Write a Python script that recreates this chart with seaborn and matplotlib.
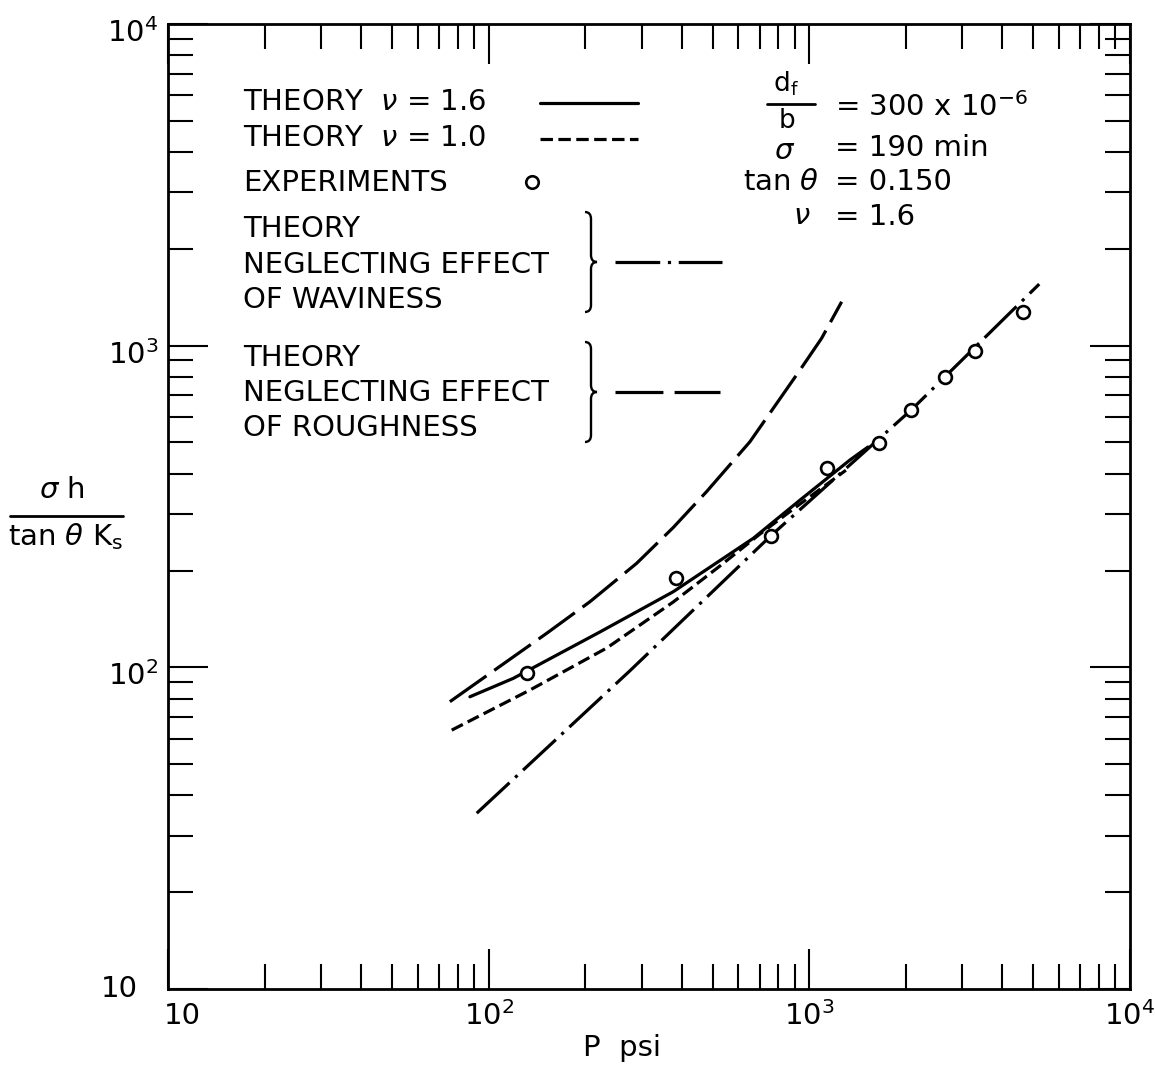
import numpy as np
import pandas as pd
import seaborn as sns
import matplotlib
matplotlib.use("Agg")
import matplotlib.pyplot as plt
from matplotlib.lines import Line2D
from matplotlib.path import Path
from matplotlib.patches import PathPatch
from matplotlib.transforms import ScaledTranslation

# ---------------- data ----------------
exp_p = [132, 384, 757, 1137, 1648, 2078, 2653, 3284, 4645]
exp_y = [96, 190, 256, 418, 499, 631, 800, 964, 1272]

nu16_p = [87.4, 119.3, 222.3, 376.3, 668.6, 935, 1338, 1523]
nu16_y = [81.0, 92.4, 128.8, 171.8, 251.8, 331, 441, 484]

nu10_p = [76.7, 134.5, 233.4, 376.3, 526, 701.5, 935, 1300]
nu10_y = [63.8, 85.0, 114.8, 159.6, 206.5, 259.7, 321.8, 410]

wav_p = [91.8, 275.8, 757, 2078, 5211]
wav_y = [35.2, 97.6, 256, 631, 1554]

rough_p = [75.7, 151.7, 207, 289.3, 376.3, 478, 652.8, 935, 1092, 1261]
rough_y = [78.2, 127.6, 160, 210.5, 272, 351.6, 502.8, 839.8, 1054, 1369]

tick_vals = [10, 100, 1000, 10000]
tick_labels = ["10", "$10^2$", "$10^3$", "$10^4$"]

# ---------------- figure ----------------
W, H = 1155, 1073
sns.set_theme(style="ticks")
plt.rcParams["font.family"] = ["DejaVu Sans"]
plt.rcParams["mathtext.fontset"] = "dejavusans"

fig = plt.figure(figsize=(W / 100, H / 100), dpi=100)
ax = fig.add_axes([168 / W, 1 - 989 / H, (1130 - 168) / W, (989 - 24) / H])
ax.set_xscale("log")
ax.set_yscale("log")

LW = 2.3
sns.lineplot(x=nu16_p, y=nu16_y, ax=ax, color="black", lw=LW, sort=False,
             estimator=None, linestyle="-")
sns.lineplot(x=nu10_p, y=nu10_y, ax=ax, color="black", lw=LW, sort=False,
             estimator=None, linestyle=(0, (3.9, 1.7)))
sns.lineplot(x=wav_p, y=wav_y, ax=ax, color="black", lw=LW, sort=False,
             estimator=None, linestyle=(0, (14, 2.4, 1, 2.4)))
sns.lineplot(x=rough_p, y=rough_y, ax=ax, color="black", lw=LW, sort=False,
             estimator=None, linestyle=(0, (14, 3)))
sns.scatterplot(x=exp_p, y=exp_y, ax=ax, marker="o", s=85, facecolor="white",
                edgecolor="black", linewidth=1.9, zorder=5)

ax.set_xlim(10, 10000)
ax.set_ylim(10, 10000)
ax.set_xticks(tick_vals)
ax.set_xticklabels(tick_labels)
ax.set_yticks(tick_vals)
ax.set_yticklabels(tick_labels)
ax.tick_params(which="both", direction="in", top=True, right=True, color="black",
               labelcolor="black")
ax.tick_params(which="major", length=29, width=1.5, labelsize=21, pad=9)
ax.tick_params(which="minor", length=18, width=1.5)
ax.tick_params(axis="y", which="major", pad=7)
for s in ax.spines.values():
    s.set_linewidth(2.0)
    s.set_color("black")
ax.set_xlabel("")
ax.set_ylabel("")

# corner labels: shift apart like the reference
xl0 = ax.get_xticklabels()[0]
xl0.set_transform(xl0.get_transform() + ScaledTranslation(0.14, 0, fig.dpi_scale_trans))
yl0 = ax.get_yticklabels()[0]
yl0.set_transform(yl0.get_transform() + ScaledTranslation(-0.2, 0.03, fig.dpi_scale_trans))
for lab in ax.get_yticklabels()[1:]:
    lab.set_transform(lab.get_transform() + ScaledTranslation(0, -0.06, fig.dpi_scale_trans))


def fx(x):
    return x / W


def fy(y):
    return 1 - y / H


FS = 21


def ftext(x, y, s, ha="left", size=FS, **kw):
    fig.text(fx(x), fy(y), s, ha=ha, va="center", fontsize=size, color="black", **kw)


def fline(x0, x1, y, ls="-"):
    fig.add_artist(Line2D([fx(x0), fx(x1)], [fy(y), fy(y)], transform=fig.transFigure,
                          color="black", lw=LW, linestyle=ls))


def brace(x0, yt, yb):
    ym = (yt + yb) / 2
    pts = [(x0 - 6, yt), (x0, yt), (x0, yt + 7), (x0, ym - 7), (x0, ym), (x0 + 6, ym),
           (x0, ym), (x0, ym + 7), (x0, yb - 7), (x0, yb), (x0 - 6, yb)]
    codes = [Path.MOVETO, Path.CURVE3, Path.CURVE3, Path.LINETO, Path.CURVE3, Path.CURVE3,
             Path.CURVE3, Path.CURVE3, Path.LINETO, Path.CURVE3, Path.CURVE3]
    verts = [(fx(a), fy(b)) for a, b in pts]
    fig.add_artist(PathPatch(Path(verts, codes), transform=fig.transFigure,
                             fill=False, lw=1.7, edgecolor="black"))


# legend block
ftext(243, 102, r"THEORY  $\nu$ = 1.6")
fline(540, 638, 103, "-")
ftext(243, 138, r"THEORY  $\nu$ = 1.0")
fline(540, 638, 139, (0, (3.9, 1.7)))
ftext(243, 183, "EXPERIMENTS")
fig.add_artist(Line2D([fx(532)], [fy(182)], transform=fig.transFigure, marker="o",
                      markersize=9, markerfacecolor="white", markeredgecolor="black",
                      markeredgewidth=1.9, linestyle="none"))
ftext(243, 229, "THEORY")
ftext(243, 265, "NEGLECTING EFFECT")
ftext(243, 300, "OF WAVINESS")
brace(591, 212, 312)
fline(615, 722, 262, (0, (14, 2.4, 1, 2.4)))
ftext(243, 358, "THEORY")
ftext(243, 393, "NEGLECTING EFFECT")
ftext(243, 428, "OF ROUGHNESS")
brace(591, 342, 442)
fline(615, 720, 392, (0, (15, 3.5)))

# parameter block
ftext(786, 84, r"$\mathrm{d_f}$", ha="center", size=19)
fig.add_artist(Line2D([fx(767), fx(815)], [fy(104), fy(104)], transform=fig.transFigure,
                      color="black", lw=2.0))
ftext(787, 121, "b", ha="center", size=19)
ftext(835, 107, r"= 300 x 10$^{-6}$")
ftext(785, 151, r"$\sigma$", ha="center")
ftext(835, 148, "= 190 min")
ftext(819, 182, r"tan $\theta$", ha="right")
ftext(835, 182, "= 0.150")
ftext(802, 216, r"$\nu$", ha="center")
ftext(835, 217, "= 1.6")

# axis titles
ftext(62, 490, r"$\sigma$ h", ha="center")
fig.add_artist(Line2D([fx(10), fx(123)], [fy(516), fy(516)], transform=fig.transFigure,
                      color="black", lw=2.0))
ftext(66, 537, r"tan $\theta$ K$_\mathrm{s}$", ha="center")
ftext(622, 1048, "P  psi", ha="center")

fig.savefig("out.png", dpi=100)
